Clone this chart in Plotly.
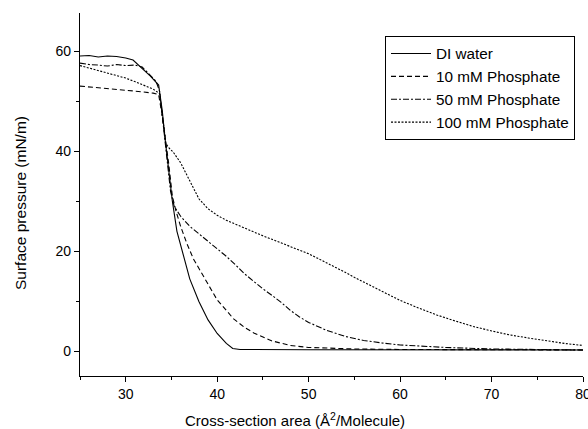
import plotly.graph_objects as go

# DI water
di_x = [25, 26, 27, 28, 29, 30, 30.8, 31.5, 32, 32.7, 33.6, 34.0, 34.3, 34.7, 35.1, 35.6, 36.2, 37, 38, 39, 40, 41, 41.7, 42.5, 50, 60, 70, 80]
di_y = [59.0, 59.1, 58.8, 59.0, 58.9, 58.6, 58.2, 57.0, 56.0, 55.0, 53.2, 48, 42.5, 36, 30, 24, 20, 14.5, 10, 6.3, 3.6, 1.6, 0.6, 0.4, 0.35, 0.3, 0.3, 0.3]

# 10 mM Phosphate
p10_x = [25, 27, 29, 31, 33, 33.6, 34.0, 34.4, 34.7, 35.1, 35.5, 36, 36.7, 37.4, 38.2, 39, 40, 41, 41.8, 43, 44, 46, 48, 50, 55, 60, 70, 80]
p10_y = [53.0, 52.7, 52.4, 52.0, 51.6, 51.3, 47, 42, 37.5, 31, 28, 25, 21.5, 18.5, 16, 13.5, 10.3, 8.2, 6.5, 4.8, 3.7, 2.1, 1.2, 0.8, 0.5, 0.4, 0.4, 0.3]

# 50 mM Phosphate
p50_x = [25, 26, 27, 28, 29, 30, 31, 31.8, 32.5, 33.3, 33.7, 34.1, 34.5, 34.9, 35.3, 36, 37, 38, 39, 40, 41, 42, 43, 44, 45, 46, 47, 48, 49, 50, 52, 54, 56, 58, 60, 65, 70, 75, 80]
p50_y = [57.6, 57.3, 57.2, 57.0, 57.3, 57.1, 57.2, 56.8, 55.5, 54, 52, 45, 38, 32, 29, 27, 25, 23.5, 22, 20.5, 19, 17.3, 15.5, 14, 12.5, 11.2, 9.8, 8.2, 6.9, 5.8, 4.2, 3, 2.2, 1.7, 1.3, 0.8, 0.5, 0.4, 0.3]

# 100 mM Phosphate
p100_x = [25, 26, 27, 28, 29, 30, 31, 32, 33, 33.7, 34.1, 34.4, 34.7, 35.2, 36, 37, 38, 39, 40, 41, 42, 43, 44, 45, 46, 47, 48, 49, 50, 51, 52, 53, 54, 55, 56, 57, 58, 59, 60, 62, 64, 66, 68, 70, 72, 74, 76, 78, 80]
p100_y = [57.1, 56.6, 56.1, 55.6, 55.1, 54.6, 53.9, 53.1, 52.4, 51.5, 46, 41.5, 40.7, 39.8, 37.7, 34, 30.5, 28.5, 27.2, 26.2, 25.4, 24.6, 23.8, 23.1, 22.4, 21.7, 21, 20.3, 19.5, 18.6, 17.7, 16.8, 15.8, 14.8, 13.9, 12.9, 12, 11.1, 10.2, 8.7, 7.3, 6.1, 5, 4.1, 3.3, 2.7, 2.1, 1.6, 1.2]

x_ticks = [30, 40, 50, 60, 70, 80]
y_ticks = [0, 20, 40, 60]
x_title = "Cross-section area (Å<sup>2</sup>/Molecule)"
y_title = "Surface pressure (mN/m)"

names = ["DI water", "10 mM Phosphate", "50 mM Phosphate", "100 mM Phosphate"]
dashes = ["solid", "5px,3px", "6px,2px,2px,2px", "2px,1.5px"]
xs = [di_x, p10_x, p50_x, p100_x]
ys = [di_y, p10_y, p50_y, p100_y]

fig = go.Figure()
for name, x, y, d in zip(names, xs, ys, dashes):
    fig.add_trace(go.Scatter(x=x, y=y, mode="lines", name=name,
                             line=dict(color="black", width=1.1, dash=d)))

font = "Liberation Sans, Arial, sans-serif"
L, R, T, B = 80, 5, 13, 53
W, H = 588, 429
pw, ph = W - L - R, H - T - B

fig.update_layout(
    width=W, height=H,
    margin=dict(l=L, r=R, t=T, b=B, autoexpand=False),
    paper_bgcolor="white", plot_bgcolor="white",
    font=dict(family=font, color="black", size=14),
    showlegend=True,
    legend=dict(x=(385 - L) / pw, y=(H - B - 36) / ph, xanchor="left", yanchor="top",
                bordercolor="black", borderwidth=1, bgcolor="white", itemwidth=40,
                font=dict(size=15.3, family=font), tracegroupgap=0),
    xaxis=dict(range=[25, 80], showline=True, linecolor="black", linewidth=1.3,
               ticks="outside", ticklen=5, tickwidth=1.3, tickcolor="black",
               tickvals=x_ticks, showgrid=False, zeroline=False, ticklabeloverflow="allow",
               automargin=False,
               minor=dict(tickvals=[25, 35, 45, 55, 65, 75], ticks="outside", ticklen=3,
                          tickwidth=1.3, tickcolor="black", showgrid=False)),
    yaxis=dict(range=[-4.9, 67.6], showline=True, linecolor="black", linewidth=1.3,
               ticks="outside", ticklen=5, tickwidth=1.3, tickcolor="black",
               tickvals=y_ticks, showgrid=False, zeroline=False, automargin=False,
               minor=dict(tickvals=[10, 30, 50], ticks="outside", ticklen=3,
                          tickwidth=1.3, tickcolor="black", showgrid=False)),
    annotations=[
        dict(text=x_title, xref="paper", yref="paper",
             x=(295 - L) / pw, y=(H - B - 420) / ph, xanchor="center", yanchor="middle",
             showarrow=False, font=dict(size=15)),
        dict(text=y_title, xref="paper", yref="paper", textangle=-90,
             x=(21 - L) / pw, y=(H - B - 203) / ph, xanchor="center", yanchor="middle",
             showarrow=False, font=dict(size=15.5)),
    ],
)

fig.write_html("out.html")
